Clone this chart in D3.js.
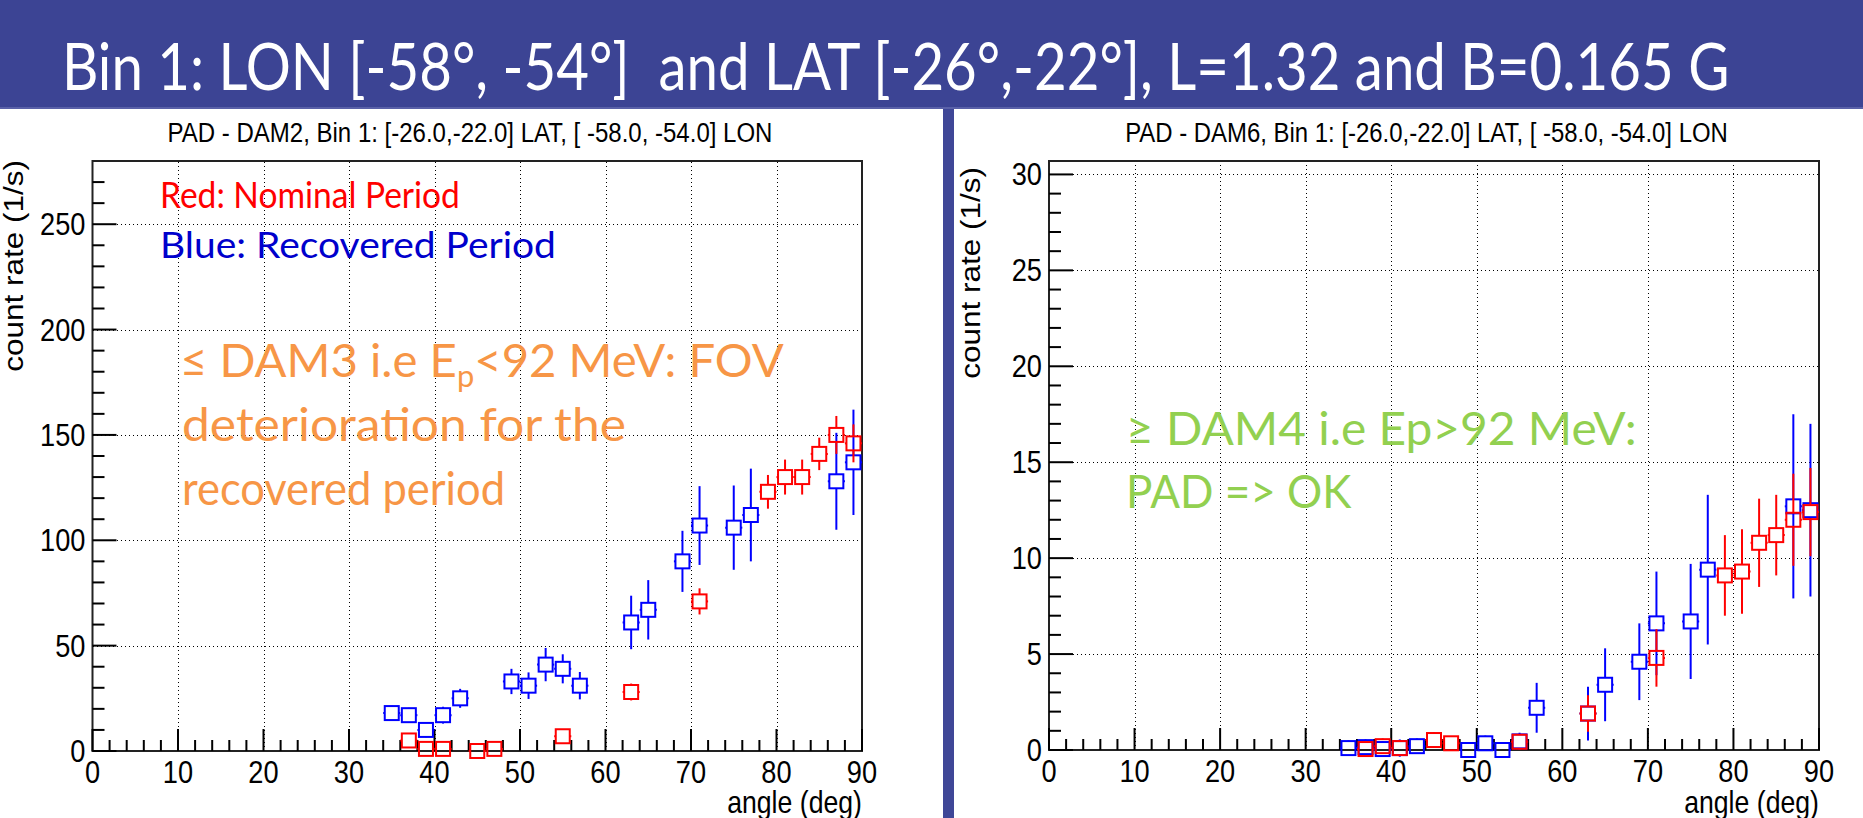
<!DOCTYPE html>
<html>
<head>
<meta charset="utf-8">
<title>PAD Bin 1</title>
<script src="https://cdnjs.cloudflare.com/ajax/libs/d3/7.8.5/d3.min.js"></script>
<style>
body{margin:0;background:#fff;overflow:hidden}
svg{display:block}
.root{font-family:"Liberation Sans",Arial,sans-serif}
.slide{font-family:Lato,"Open Sans",sans-serif}
</style>
</head>
<body>
<svg width="1863" height="818"></svg>
<script>

// DAM2 pad (left)
var dam2BlueAngle = [35,37,39,41,43,49,51,53,55,57,63,65,69,71,75,77,87,89]
var dam2BlueRate  = [18,17,10,17,25,33,31,41,39,31,61,67,90,107,106,112,128,137]
var dam2BlueErr   = [3.5,3.5,3.5,4,4.5,6,6.3,7.9,6.9,6.5,12.7,14.1,14.5,18.7,20,22,23,25]
var dam2RedAngle  = [37,39,41,45,47,55,63,71,79,81,83,85,87,89]
var dam2RedRate   = [5,1,1,0,1,7,28,71,123,130,130,141,150,146]
var dam2RedErr    = [2,1,1,0.8,1,2.5,4,6.2,8,8.3,8.3,7.7,9,9]

// DAM6 pad (right)
var dam6BlueAngle = [35,37,39,41,43,49,51,53,55,57,63,65,69,71,75,77,87,89]
var dam6BlueRate  = [0.1,0.15,0.05,0.1,0.2,0,0.35,0,0.45,2.2,1.9,3.4,4.6,6.6,6.7,9.4,12.7,12.5]
var dam6BlueErr   = [0.4,0.4,0.4,0.45,0.4,0.3,0.4,0.35,0.45,1.3,1.4,1.9,2.0,2.7,3.0,3.9,4.8,4.5]
var dam6RedAngle  = [37,39,41,45,47,55,63,71,79,81,83,85,87,89]
var dam6RedRate   = [0.05,0.2,0.1,0.52,0.35,0.43,1.9,4.8,9.1,9.3,10.8,11.2,12.0,12.4]
var dam6RedErr    = [0.35,0.4,0.4,0.4,0.35,0.4,0.95,1.5,2.1,2.2,2.3,2.1,2.4,2.3]

var slideTitle = 'Bin 1: LON [-58°, -54°]  and LAT [-26°,-22°], L=1.32 and B=0.165 G'
var binHalfWidth = 1   // deg

var svg = d3.select('svg')

// text helper: squeeze horizontally (ROOT pads are squashed in the slide)
function putText(parent, x, y, str, opt){
	var g = parent.append('g')
		.attr('transform', 'translate(' + x + ',' + y + ')' + (opt.rotate ? ' rotate(-90)' : ''))
	var t = g.append('text')
		.attr('class', opt.cls || 'root')
		.attr('text-anchor', opt.anchor || 'start')
		.attr('fill', opt.color || '#000')
		.style('font-size', opt.size + 'px')
		.style('white-space', 'pre')
	if(typeof str == 'function') str(t); else t.text(str)
	var k = opt.squeeze || 1
	if(opt.width) k = opt.width / t.node().getBBox().width
	t.attr('transform', opt.rotate ? 'scale(1,' + k + ')' : 'scale(' + k + ',1)')
	return t
}

// banner
svg.append('rect').attr('x',0).attr('y',0).attr('width',1863).attr('height',109).attr('fill','#3c4494')
svg.append('rect').attr('x',0).attr('y',107).attr('width',1863).attr('height',2).attr('fill','#5a61a8')
putText(svg, 62, 90, slideTitle, {cls:'slide', size:66, color:'#fff', width:1668})

// divider between the two pads
svg.append('rect').attr('x',943).attr('y',109).attr('width',11).attr('height',709).attr('fill','#3f4797')

var pads = [
	{x0:92.5, x1:862, top:161, bottom:751, ymax:280, major:50, minor:10,
	 title:'PAD - DAM2, Bin 1: [-26.0,-22.0] LAT, [ -58.0, -54.0] LON', titleX:470, titleW:605,
	 ytX:23, ytY:160,
	 blue:{a:dam2BlueAngle, v:dam2BlueRate, e:dam2BlueErr},
	 red:{a:dam2RedAngle, v:dam2RedRate, e:dam2RedErr}},
	{x0:1049, x1:1819, top:161, bottom:750, ymax:30.7, major:5, minor:1,
	 title:'PAD - DAM6, Bin 1: [-26.0,-22.0] LAT, [ -58.0, -54.0] LON', titleX:1426.5, titleW:603,
	 ytX:980, ytY:167,
	 blue:{a:dam6BlueAngle, v:dam6BlueRate, e:dam6BlueErr},
	 red:{a:dam6RedAngle, v:dam6RedRate, e:dam6RedErr}}
]

var squeeze = 0.85
var px = v => Math.round(v) + 0.5

pads.forEach(function(p){
	var x = d3.scaleLinear().domain([0,90]).range([p.x0, p.x1])
	var y = d3.scaleLinear().domain([0,p.ymax]).range([p.bottom, p.top])
	var g = svg.append('g')

	putText(g, p.titleX, 142, p.title, {size:28, anchor:'middle', width:p.titleW})

	// dotted grid
	var grid = g.append('g').attr('stroke','#000').attr('stroke-width',1)
		.attr('stroke-dasharray','1,3').attr('shape-rendering','crispEdges')
	grid.selectAll('.gx').data(d3.range(10, 90, 10)).join('line')
		.attr('x1', d => px(x(d))).attr('x2', d => px(x(d))).attr('y1', p.bottom).attr('y2', p.top)
	grid.selectAll('.gy').data(d3.range(p.major, p.ymax, p.major)).join('line')
		.attr('y1', d => px(y(d))).attr('y2', d => px(y(d))).attr('x1', p.x0).attr('x2', p.x1)

	// frame
	g.append('rect').attr('x', p.x0).attr('y', p.top).attr('width', p.x1 - p.x0).attr('height', p.bottom - p.top)
		.attr('fill','none').attr('stroke','#222').attr('stroke-width',2)

	// ticks (inward, ROOT style)
	var ticks = g.append('g').attr('stroke','#000').attr('stroke-width',2)
	ticks.selectAll('.tx').data(d3.range(0, 90.01, 2)).join('line')
		.attr('x1', d => x(d)).attr('x2', d => x(d)).attr('y1', p.bottom)
		.attr('y2', d => p.bottom - (d % 10 == 0 ? 22 : 11))
	ticks.selectAll('.ty').data(d3.range(0, p.ymax - 0.3, p.minor)).join('line')
		.attr('y1', d => y(d)).attr('y2', d => y(d)).attr('x1', p.x0)
		.attr('x2', d => p.x0 + (Math.abs(d / p.major - Math.round(d / p.major)) < 1e-6 ? 24 : 12))

	// tick labels
	d3.range(0, 91, 10).forEach(function(v){
		putText(g, x(v), p.bottom + 32, String(v), {size:32, anchor:'middle', squeeze:squeeze})
	})
	d3.range(0, p.ymax, p.major).forEach(function(v){
		putText(g, p.x0 - 7, y(v) + 11, d3.format('d')(v), {size:32, anchor:'end', squeeze:squeeze})
	})

	// axis titles
	putText(g, p.x1, 813, 'angle (deg)', {size:31, anchor:'end', squeeze:0.86})
	putText(g, p.ytX, p.ytY, 'count rate (1/s)', {size:31.5, anchor:'end', rotate:true, squeeze:0.9})

	// points: blue first, red on top
	var half = 7
	;[['#0000ff', p.blue], ['#ff0000', p.red]].forEach(function(s){
		var col = s[0], d = s[1]
		var pts = d.a.map(function(a, i){ return {a:a, v:d.v[i], e:d.e[i]} })
		var sg = g.append('g').attr('stroke', col).attr('stroke-width',2).attr('fill','none')
		pts.forEach(function(pt){
			var cx = x(pt.a), cy = y(pt.v)
			var yHi = y(pt.v + pt.e), yLo = y(pt.v - pt.e)
			var xL = x(pt.a - binHalfWidth), xR = x(pt.a + binHalfWidth)
			if(yHi < cy - half) sg.append('line').attr('x1',cx).attr('x2',cx).attr('y1',cy - half).attr('y2',yHi)
			if(yLo > cy + half) sg.append('line').attr('x1',cx).attr('x2',cx).attr('y1',cy + half).attr('y2',yLo)
			sg.append('line').attr('x1',xL).attr('x2',cx - half).attr('y1',cy).attr('y2',cy)
			sg.append('line').attr('x1',cx + half).attr('x2',xR).attr('y1',cy).attr('y2',cy)
			sg.append('rect').attr('x',cx - half).attr('y',cy - half).attr('width',2*half).attr('height',2*half)
		})
	})
})

// slide annotations
putText(svg, 160, 208, 'Red: Nominal Period', {cls:'slide', size:37, color:'#ff0000', width:300})
putText(svg, 160, 258, 'Blue: Recovered Period', {cls:'slide', size:37, color:'#0000cc', width:396})

var orange = '#f79646'
putText(svg, 180, 377, function(t){
	t.append('tspan').text('≤ DAM3 i.e E')
	t.append('tspan').attr('dy',10).style('font-size','30px').text('p')
	t.append('tspan').attr('dy',-10).text('<92 MeV: FOV')
}, {cls:'slide', size:46, color:orange, width:604})
putText(svg, 182, 441, 'deterioration for the', {cls:'slide', size:46, color:orange, width:444})
putText(svg, 182, 505, 'recovered period', {cls:'slide', size:46, color:orange, width:323})

var green = '#92d050'
putText(svg, 1126, 445, '≥ DAM4 i.e Ep>92 MeV:', {cls:'slide', size:46, color:green, width:511})
putText(svg, 1126, 508, 'PAD => OK', {cls:'slide', size:46, color:green, width:226})

</script>
</body>
</html>
